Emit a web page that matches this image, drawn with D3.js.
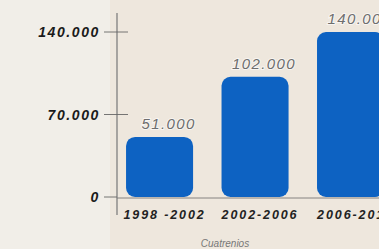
<!DOCTYPE html>
<html><head><meta charset="utf-8">
<script src="https://cdn.jsdelivr.net/npm/d3@7"></script>
<style>
html,body{margin:0;padding:0;background:#efeae1;overflow:hidden}
svg{display:block}
</style></head>
<body>
<script>
const categories = ["1998 -2002", "2002-2006", "2006-2010"];
const values = [51000, 102000, 140000];
const valueLabels = ["51.000", "102.000", "140.000"];
const tickValues = [0, 70000, 140000];
const tickLabels = ["0", "70.000", "140.000"];
const axisTitle = "Cuatrenios";

const W = 379, H = 249;
const svg = d3.select("body").append("svg").attr("width", W).attr("height", H);

// background
svg.append("rect").attr("width", W).attr("height", H).attr("fill", "#eee7dd");
svg.append("rect").attr("width", 110).attr("height", H).attr("fill", "#f1eee8");

const axisX = 117;
const y = d3.scaleLinear().domain([0, 140000]).range([197, 32]);
const x = d3.scaleBand().domain(categories).range([116.5, 393.6]).paddingInner(0.298).paddingOuter(0.1);

// bars with rounded corners
svg.append("g").selectAll("rect").data(values).join("rect")
  .attr("x", (d, i) => x(categories[i]))
  .attr("y", d => y(d))
  .attr("width", x.bandwidth())
  .attr("height", d => y(0) - y(d))
  .attr("rx", 9).attr("ry", 9)
  .attr("fill", "#0d62c2");

// baseline
svg.append("line").attr("x1", axisX).attr("x2", W).attr("y1", y(0) + 1).attr("y2", y(0) + 1)
  .attr("stroke", "#6a6a6a").attr("stroke-width", 0.8);

// vertical axis
svg.append("line").attr("x1", axisX).attr("x2", axisX).attr("y1", 13).attr("y2", 215)
  .attr("stroke", "#777").attr("stroke-width", 1.2);

// ticks
const ticks = svg.append("g");
ticks.selectAll("line").data(tickValues).join("line")
  .attr("x1", 104).attr("x2", d => d === 0 ? axisX : 128)
  .attr("y1", d => y(d)).attr("y2", d => y(d))
  .attr("stroke", "#666").attr("stroke-width", 0.9);
ticks.selectAll("text").data(tickValues).join("text")
  .attr("x", 100).attr("y", d => y(d) + 5)
  .attr("text-anchor", "end")
  .attr("font-family", "Liberation Sans, Arial, sans-serif")
  .attr("font-size", 14).attr("font-weight", "bold").attr("font-style", "italic")
  .attr("letter-spacing", 1.6)
  .attr("fill", "#1a1a1a")
  .text((d, i) => tickLabels[i]);

// value labels
svg.append("g").selectAll("text").data(values).join("text")
  .attr("x", (d, i) => x(categories[i]) + x.bandwidth() / 2 + 9)
  .attr("y", d => y(d) - 8)
  .attr("text-anchor", "middle")
  .attr("font-family", "Liberation Sans, Arial, sans-serif")
  .attr("font-size", 15).attr("font-style", "italic")
  .attr("letter-spacing", 1.4)
  .attr("fill", "#6e6e6e")
  .attr("stroke", "#ffffff").attr("stroke-width", 2).attr("stroke-opacity", 0.6)
  .attr("paint-order", "stroke")
  .text((d, i) => valueLabels[i]);

// category labels
svg.append("g").selectAll("text").data(categories).join("text")
  .attr("x", d => x(d) + x.bandwidth() / 2 + 5)
  .attr("y", 219)
  .attr("text-anchor", "middle")
  .attr("font-family", "Liberation Sans, Arial, sans-serif")
  .attr("font-size", 12.5).attr("font-style", "italic").attr("font-weight", "bold")
  .attr("letter-spacing", 1.9)
  .attr("fill", "#222")
  .text(d => d);

// axis title
svg.append("text").attr("x", 225).attr("y", 247)
  .attr("text-anchor", "middle")
  .attr("font-family", "Liberation Sans, Arial, sans-serif")
  .attr("font-size", 10).attr("font-style", "italic")
  .attr("fill", "#777")
  .text(axisTitle);
</script>
</body></html>
